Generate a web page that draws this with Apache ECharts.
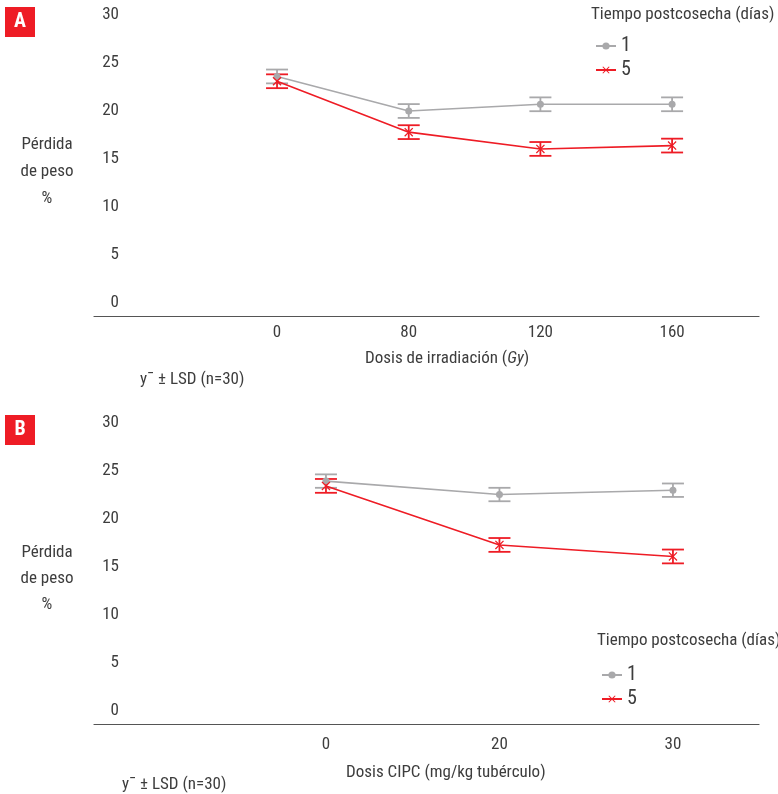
<!DOCTYPE html>
<html><head><meta charset="utf-8">
<script src="https://cdn.jsdelivr.net/npm/echarts@6/dist/echarts.min.js"></script>
<style>html,body{margin:0;padding:0;background:#fff}#c{width:778px;height:794px}</style>
</head><body><div id="c"></div>
<script>
// ---- data ----
const categoriesA = ['0', '80', '120', '160'];
const categoriesB = ['0', '20', '30'];
const yTicks = [0, 5, 10, 15, 20, 25, 30];
const seriesNames = ['1', '5'];
const dayA1 = [23.6, 20.0, 20.7, 20.7];
const dayA5 = [23.1, 17.8, 16.05, 16.4];
const lsdA1 = [0.72, 0.72, 0.72, 0.72];
const lsdA5 = [0.72, 0.72, 0.72, 0.72];
const dayB1 = [23.95, 22.55, 23.0];
const dayB5 = [23.45, 17.3, 16.1];
const lsdB1 = [0.7, 0.7, 0.7];
const lsdB5 = [0.72, 0.72, 0.72];

const FONT = "'Roboto Condensed', 'Liberation Sans Narrow', 'DejaVu Sans Condensed', sans-serif";
const TXT = '#3d3d3d';
const GRAY = '#a9a9ab';
const RED = '#ee1c25';
const XSYM = 'path://M0,1 L1,0 L5,4 L9,0 L10,1 L6,5 L10,9 L9,10 L5,6 L1,10 L0,9 L4,5 Z';

const chart = echarts.init(document.getElementById('c'), null, {renderer: 'canvas'});

function xAxisFor(idx, cats, min, max, margin) {
  return {
    type: 'value', gridIndex: idx, min: min, max: max,
    axisLine: {show: true, onZero: false, lineStyle: {color: '#555', width: 1.2}},
    axisTick: {show: false}, splitLine: {show: false},
    axisLabel: {customValues: cats.map((c, i) => i), formatter: v => cats[Math.round(v)] ?? '',
      color: TXT, fontFamily: FONT, fontSize: 17, margin: margin}
  };
}
function yAxisFor(idx) {
  return {
    type: 'value', gridIndex: idx, min: -1.35, max: 30,
    axisLine: {show: false}, axisTick: {show: false}, splitLine: {show: false},
    axisLabel: {customValues: yTicks, color: TXT, fontFamily: FONT, fontSize: 17, margin: -25}
  };
}
function lineSeries(name, vals, idx, color, symbol, size) {
  return {
    type: 'line', name: name, xAxisIndex: idx, yAxisIndex: idx,
    data: vals.map((v, i) => [i, v]),
    symbol: symbol, symbolSize: size, showSymbol: true,
    lineStyle: {color: color, width: 1.6},
    itemStyle: {color: color},
    z: 3
  };
}
function errSeries(name, vals, lsd, idx, color) {
  return {
    type: 'custom', name: 'LSD ' + name, xAxisIndex: idx, yAxisIndex: idx,
    data: vals.map((v, i) => [i, v - lsd[i], v + lsd[i]]),
    itemStyle: {color: color},
    renderItem: function (params, api) {
      const lo = api.coord([api.value(0), api.value(1)]);
      const hi = api.coord([api.value(0), api.value(2)]);
      const hw = 11;
      const st = {stroke: color, lineWidth: 1.8};
      return {type: 'group', children: [
        {type: 'line', shape: {x1: lo[0], y1: lo[1], x2: hi[0], y2: hi[1]}, style: st},
        {type: 'line', shape: {x1: lo[0] - hw, y1: lo[1], x2: lo[0] + hw, y2: lo[1]}, style: st},
        {type: 'line', shape: {x1: hi[0] - hw, y1: hi[1], x2: hi[0] + hw, y2: hi[1]}, style: st}
      ]};
    },
    z: 2
  };
}
function txt(left, top, text, extra) {
  return Object.assign({type: 'text', left: left, top: top,
    style: Object.assign({text: text, fill: TXT, font: '17px ' + FONT}, extra || {})});
}
function legendFor(left, top) {
  return {
    data: seriesNames, orient: 'vertical', left: left, top: top,
    itemWidth: 20, itemHeight: 9, itemGap: 4,
    textStyle: {color: TXT, fontFamily: FONT, fontSize: 20}, selectedMode: false
  };
}

chart.setOption({
  animation: false,
  textStyle: {fontFamily: FONT},
  grid: [
    {left: 94, right: 19, top: 15, height: 301},
    {left: 94, right: 19, top: 423, height: 301}
  ],
  xAxis: [xAxisFor(0, categoriesA, -1.39, 3.66, 8), xAxisFor(1, categoriesB, -1.337, 2.496, 12)],
  yAxis: [yAxisFor(0), yAxisFor(1)],
  legend: [legendFor(590, 31), legendFor(596, 660)],
  series: [
    lineSeries('1', dayA1, 0, GRAY, 'circle', 7),
    lineSeries('5', dayA5, 0, RED, XSYM, 9),
    lineSeries('1', dayB1, 1, GRAY, 'circle', 7),
    lineSeries('5', dayB5, 1, RED, XSYM, 9),
    errSeries('1', dayA1, lsdA1, 0, GRAY),
    errSeries('5', dayA5, lsdA5, 0, RED),
    errSeries('1', dayB1, lsdB1, 1, GRAY),
    errSeries('5', dayB5, lsdB5, 1, RED)
  ],
  graphic: [
    {type: 'rect', left: 5, top: 7, shape: {width: 30, height: 30}, style: {fill: RED}},
    {type: 'text', x: 20, y: 22, style: {text: 'A', fill: '#fff', font: 'bold 20px ' + FONT, align: 'center', verticalAlign: 'middle'}},
    {type: 'rect', left: 5, top: 415, shape: {width: 30, height: 30}, style: {fill: RED}},
    {type: 'text', x: 20, y: 430, style: {text: 'B', fill: '#fff', font: 'bold 20px ' + FONT, align: 'center', verticalAlign: 'middle'}},
    txt(591, 6, 'Tiempo postcosecha (días)'),
    txt(597, 632, 'Tiempo postcosecha (días)'),
    {type: 'text', x: 47, y: 131, style: {text: 'Pérdida\nde peso\n%', fill: TXT, font: '17px ' + FONT, align: 'center', lineHeight: 27}},
    {type: 'text', x: 47, y: 540, style: {text: 'Pérdida\nde peso\n%', fill: TXT, font: '17px ' + FONT, align: 'center', lineHeight: 26}},
    {type: 'text', left: 365, top: 350, style: {
      rich: {n: {fontFamily: FONT, fontSize: 17, fill: TXT}, i: {fontFamily: FONT, fontSize: 17, fontStyle: 'italic', fill: TXT}},
      text: '{n|Dosis de irradiación (}{i|Gy}{n|)}'}},
    txt(346, 764, 'Dosis CIPC (mg/kg tubérculo)'),
    txt(140, 371, 'y¯ ± LSD (n=30)'),
    txt(122, 776, 'y¯ ± LSD (n=30)')
  ]
});
</script></body></html>
